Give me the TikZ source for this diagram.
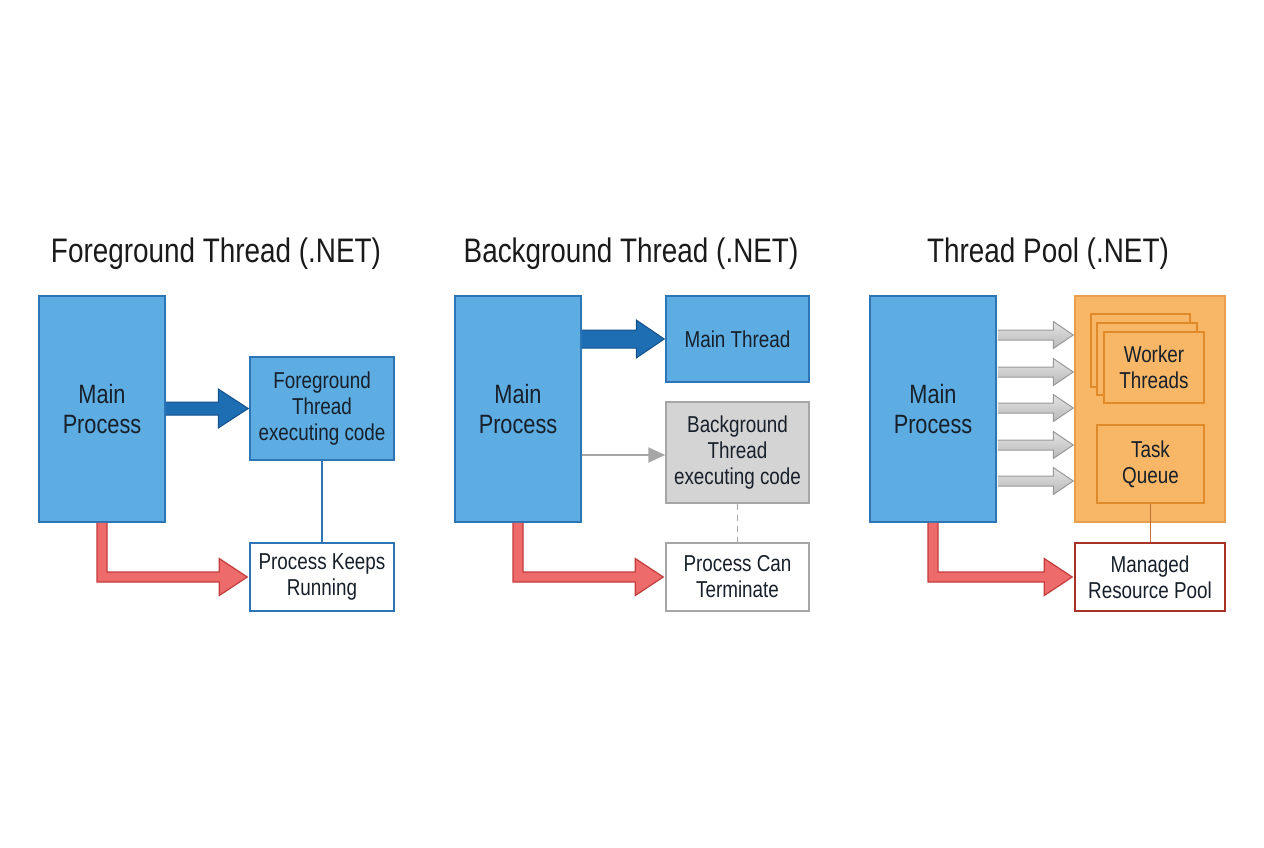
\documentclass[tikz,border=0pt]{standalone}
\usepackage{fontspec}
\setmainfont[FakeStretch=0.82]{Liberation Sans}
\usetikzlibrary{calc,arrows.meta}
\definecolor{boxblue}{HTML}{5DADE2}
\definecolor{blueedge}{HTML}{2E75B6}
\definecolor{arrowblue}{HTML}{1E6EB4}
\definecolor{arrowblueedge}{HTML}{14508A}
\definecolor{redfill}{HTML}{EE6B6B}
\definecolor{rededge}{HTML}{C43C3C}
\definecolor{grayfill}{HTML}{D4D4D4}
\definecolor{grayedge}{HTML}{A6A6A6}
\definecolor{orangefill}{HTML}{F8B766}
\definecolor{orangeedge}{HTML}{E9A04E}
\definecolor{orangeinner}{HTML}{E08A2A}
\definecolor{pooledge}{HTML}{A93226}
\definecolor{linkbrown}{HTML}{C0703A}
\definecolor{boxtext}{HTML}{17202A}
\definecolor{titletext}{HTML}{1A1A1A}
\newcommand{\hfatarrow}[6]{%
  \draw[#1] ($(#2)+(0,-#4)$) -- ($(#3)+(-#6,-#4)$) -- ($(#3)+(-#6,-#5)$) -- (#3)
    -- ($(#3)+(-#6,#5)$) -- ($(#3)+(-#6,#4)$) -- ($(#2)+(0,#4)$);}
\newcommand{\elbowarrow}[2]{%
  \fill[redfill] ($(#1)+(-5,0)$) -- ($(#1 |- #2)+(-5,5)$) -- ($(#2)+(-28,5)$) -- ($(#2)+(-28,18.5)$)
    -- (#2) -- ($(#2)+(-28,-18.5)$) -- ($(#2)+(-28,-5)$) -- ($(#1 |- #2)+(5,-5)$) -- ($(#1)+(5,0)$) -- cycle;
  \draw[rededge, line width=1.2pt, line join=miter] ($(#1)+(-5,0)$) -- ($(#1 |- #2)+(-5,5)$) -- ($(#2)+(-28,5)$) -- ($(#2)+(-28,18.5)$)
    -- (#2) -- ($(#2)+(-28,-18.5)$) -- ($(#2)+(-28,-5)$) -- ($(#1 |- #2)+(5,-5)$) -- ($(#1)+(5,0)$);}
\begin{document}
\begin{tikzpicture}[x=1pt,y=-1pt,
  title/.style={font=\fontsize{34}{40}\selectfont, text=titletext, anchor=base, inner sep=0pt},
  base/.style={rectangle, inner sep=0pt, align=center, line width=1.5pt, text=boxtext,
    font=\fontsize{23}{26}\selectfont},
  mainbox/.style={base, draw=blueedge, fill=boxblue, minimum width=126pt, minimum height=226pt,
    font=\fontsize{26.5}{30}\selectfont},
  bluebox/.style={base, draw=blueedge, fill=boxblue},
  whitebox/.style={base, fill=white},
  graybox/.style={base, draw=grayedge, fill=grayfill},
  poolbox/.style={base, draw=orangeedge, fill=orangefill},
  innerbox/.style={base, draw=orangeinner, fill=orangefill},
  bluearrow/.style={fill=arrowblue, draw=arrowblueedge, line width=1pt},
  grayarrow/.style={top color=gray!22, bottom color=gray!55, draw=gray!80, line width=1pt},
]
\useasboundingbox (0,0) rectangle (1264,848);
\fill[white] (0,0) rectangle (1264,848);

% titles
\node[title] (t1) at (216,262) {Foreground Thread (.NET)};
\node[title] (t2) at (631,262) {Background Thread (.NET)};
\node[title] (t3) at (1048,262) {Thread Pool (.NET)};

% ---------- panel 1 ----------
\node[mainbox] (mp1) at (102,409) {Main\\Process};
\node[bluebox, minimum width=144pt, minimum height=103pt] (fg) at (322,408.5) {Foreground\\Thread\\executing code};
\node[whitebox, draw=blueedge, minimum width=144pt, minimum height=68pt] (pkr) at (322,577) {Process Keeps\\Running};
\draw[blueedge, line width=1.8pt] (fg.south) -- (pkr.north);
\coordinate (a1s) at (mp1.east |- 0,408.5);
\coordinate (a1t) at ($(fg.west |- 0,408.5)+(-1,0)$);
\hfatarrow{bluearrow}{a1s}{a1t}{6.5}{19.5}{30}
\coordinate (r1t) at ($(pkr.west)+(-2,0)$);
\elbowarrow{mp1.south}{r1t}

% ---------- panel 2 ----------
\node[mainbox] (mp2) at (518,409) {Main\\Process};
\node[bluebox, minimum width=143pt, minimum height=86pt] (mt) at (737.5,339) {Main Thread};
\node[graybox, minimum width=143pt, minimum height=101pt] (bg) at (737.5,452.5) {Background\\Thread\\executing code};
\node[whitebox, draw=grayedge, minimum width=143pt, minimum height=68pt] (pct) at (737.5,577) {Process Can\\Terminate};
\draw[grayedge, line width=1.8pt, dash pattern=on 6pt off 5pt] (bg.south) -- (pct.north);
\coordinate (a2s) at (mp2.east |- 0,339);
\coordinate (a2t) at ($(mt.west |- 0,339)+(-1,0)$);
\hfatarrow{bluearrow}{a2s}{a2t}{9}{19}{28}
\draw[grayedge, line width=2pt, -{Triangle[length=17pt,width=15pt]}] (mp2.east |- 0,455) -- (bg.west |- 0,455);
\coordinate (r2t) at ($(pct.west)+(-2,0)$);
\elbowarrow{mp2.south}{r2t}

% ---------- panel 3 ----------
\node[mainbox] (mp3) at (933,409) {Main\\Process};
\node[poolbox, minimum width=150pt, minimum height=226pt] (pool) at (1150,409) {};
\node[innerbox, minimum width=99pt, minimum height=73pt] (w3) at (1140.5,350.5) {};
\node[innerbox, minimum width=100pt, minimum height=72pt] (w2) at (1147,359) {};
\node[innerbox, minimum width=100pt, minimum height=71pt] (w1) at (1154,367.5) {Worker\\Threads};
\node[innerbox, minimum width=107pt, minimum height=78pt] (tq) at (1150.5,464) {Task\\Queue};
\node[whitebox, draw=pooledge, minimum width=150pt, minimum height=68pt] (mrp) at (1150,577) {Managed\\Resource Pool};
\draw[linkbrown, line width=1.8pt] (tq.south) -- (tq.south |- mrp.north);
\foreach \yy [count=\i] in {335,372,408,445,481}{
  \coordinate (g\i s) at ($(mp3.east |- 0,\yy)+(1,0)$);
  \coordinate (g\i t) at ($(pool.west |- 0,\yy)+(-1,0)$);
  \hfatarrow{grayarrow}{g\i s}{g\i t}{5}{13.5}{20}
}
\coordinate (r3t) at ($(mrp.west)+(-2,0)$);
\elbowarrow{mp3.south}{r3t}
\end{tikzpicture}
\end{document}
